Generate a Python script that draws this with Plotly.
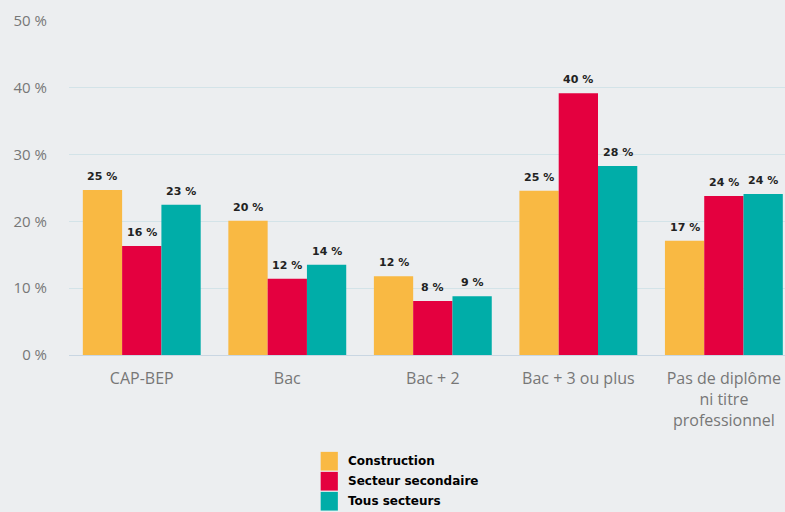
import plotly.graph_objects as go

categories = ["CAP-BEP", "Bac", "Bac + 2", "Bac + 3 ou plus", "Pas de diplôme<br>ni titre<br>professionnel"]
construction = [24.7, 20.1, 11.8, 24.6, 17.1]
secteur_secondaire = [16.3, 11.4, 8.1, 39.2, 23.8]
tous_secteurs = [22.5, 13.5, 8.8, 28.3, 24.1]
labels_construction = ["25 %", "20 %", "12 %", "25 %", "17 %"]
labels_secondaire = ["16 %", "12 %", "8 %", "40 %", "24 %"]
labels_tous = ["23 %", "14 %", "9 %", "28 %", "24 %"]
series_names = ["Construction", "Secteur secondaire", "Tous secteurs"]
series_colors = ["#f9b943", "#e4003f", "#00ada8"]
y_ticks = [0, 10, 20, 30, 40, 50]
y_tick_labels = ["0 %", "10 %", "20 %", "30 %", "40 %", "50 %"]

series_values = [construction, secteur_secondaire, tous_secteurs]
series_labels = [labels_construction, labels_secondaire, labels_tous]

BARGAP = 0.19
n = len(series_names)
w = (1 - BARGAP) / n

fig = go.Figure()
annotations = []
shapes = []
for k, (name, vals, labs, col) in enumerate(zip(series_names, series_values, series_labels, series_colors)):
    fig.add_trace(go.Bar(
        name=name, x=categories, y=vals,
        marker=dict(color=col, line=dict(width=0)),
        hoverinfo="skip", showlegend=False,
    ))
    for i, (v, lab) in enumerate(zip(vals, labs)):
        annotations.append(dict(
            x=i + (k - (n - 1) / 2) * w, y=v, xref="x", yref="y",
            text="<b>" + lab + "</b>", showarrow=False,
            yanchor="bottom", yshift=5,
            font=dict(family="DejaVu Sans", size=11, color="#222"),
        ))
    # manual legend
    y0 = -0.29 - k * 0.0599
    shapes.append(dict(type="rect", xref="paper", yref="paper",
                       x0=0.3515, x1=0.3755, y0=y0 - 0.056, y1=y0,
                       fillcolor=col, line=dict(width=0)))
    annotations.append(dict(
        x=0.3865, y=y0 - 0.028, xref="paper", yref="paper",
        text="<b>" + name + "</b>", showarrow=False,
        xanchor="left", yanchor="middle",
        font=dict(family="DejaVu Sans", size=12, color="#000"),
    ))

fig.update_layout(
    width=785, height=512,
    margin=dict(l=69, r=0, t=21, b=157),
    paper_bgcolor="#eceef0", plot_bgcolor="#eceef0",
    barmode="group", bargap=BARGAP, bargroupgap=0,
    font=dict(family="Open Sans", size=15, color="#777"),
    showlegend=False,
    annotations=annotations,
    shapes=shapes,
)
fig.update_xaxes(
    range=[-0.5, 4.42], showgrid=False, zeroline=False,
    showline=True, linecolor="#c9d6e2", linewidth=1,
    tickfont=dict(family="Open Sans", size=16, color="#777"),
    ticks="", ticklabelstandoff=9, fixedrange=True,
)
fig.update_yaxes(
    range=[0, 50], tickvals=y_ticks, ticktext=y_tick_labels,
    showgrid=True, gridcolor="#d3e3e8", gridwidth=1, zeroline=False,
    tickfont=dict(family="Open Sans", size=15, color="#777"),
    ticks="", ticklabelstandoff=21, fixedrange=True,
)

fig.write_html("out.html", config={"displayModeBar": False},
               post_script="document.body.style.margin='0';document.body.style.overflow='hidden';")
